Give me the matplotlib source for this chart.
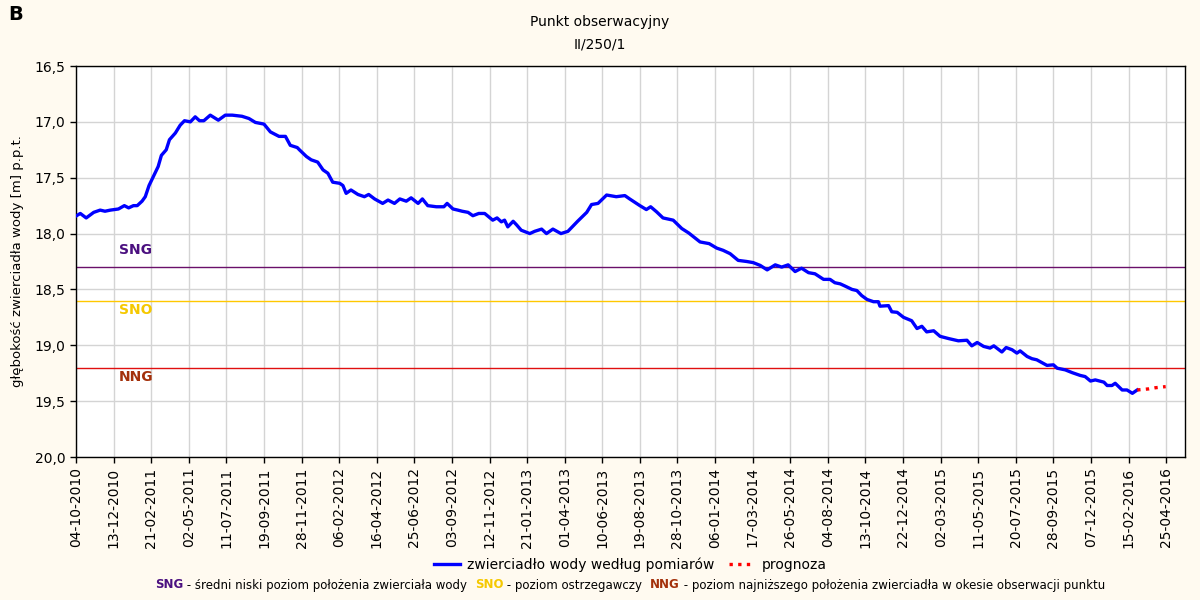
import matplotlib.pyplot as plt
import matplotlib.transforms as mtransforms
import numpy as np
from matplotlib.ticker import FuncFormatter, MultipleLocator

plt.rcParams['font.family'] = ['DejaVu Sans']

# --- dane ---
START = np.datetime64('2010-10-04')

# dni od 04-10-2010 i głębokość zwierciadła [m p.p.t.]
dni_pomiaru = [
    1, 8, 19, 33, 45, 54, 64, 79, 90, 98, 107, 114, 123, 129, 136, 144, 153, 159,
    168, 174, 185, 194, 202, 213, 222, 230, 238, 250, 265, 278, 291, 309, 322, 334,
    350, 362, 378, 390, 399, 412, 416, 429, 438, 450, 460, 469, 478, 491, 497, 503,
    512, 525, 537, 545, 556, 571, 581, 593, 603, 615, 624, 637, 645, 655, 671, 685,
    691, 702, 711, 719, 730, 739, 750, 761, 776, 784, 792, 798, 804, 814, 820, 829,
    845, 854, 867, 876, 888, 903, 916, 934, 951, 960, 972, 988, 1006, 1022, 1031,
    1050, 1062, 1070, 1081, 1093, 1112, 1128, 1141, 1162, 1179, 1193, 1205, 1218,
    1233, 1249, 1261, 1274, 1287, 1302, 1314, 1326, 1339, 1351, 1364, 1376, 1392,
    1404, 1413, 1423, 1432, 1445, 1454, 1463, 1473, 1485, 1494, 1497, 1513, 1519,
    1529, 1541, 1556, 1566, 1575, 1584, 1597, 1609, 1625, 1643, 1659, 1668, 1678,
    1690, 1702, 1709, 1724, 1732, 1743, 1752, 1758, 1771, 1780, 1789, 1808, 1820,
    1827, 1842, 1855, 1870, 1879, 1889, 1898, 1914, 1920, 1929, 1935, 1948, 1957,
    1967, 1976,
]
glebokosc = [
    17.84, 17.82, 17.86, 17.81, 17.79, 17.80, 17.79, 17.78, 17.75, 17.77, 17.75, 17.75,
    17.71, 17.67, 17.57, 17.49, 17.40, 17.30, 17.25, 17.16, 17.10, 17.03, 16.99, 17.00,
    16.955, 16.99, 16.99, 16.94, 16.985, 16.94, 16.94, 16.95, 16.97, 17.005, 17.02,
    17.09, 17.13, 17.13, 17.21, 17.23, 17.25, 17.31, 17.34, 17.36, 17.43, 17.46, 17.54,
    17.55, 17.57, 17.64, 17.61, 17.65, 17.67, 17.65, 17.69, 17.73, 17.70, 17.73, 17.69,
    17.71, 17.68, 17.73, 17.69, 17.75, 17.76, 17.76, 17.73, 17.78, 17.79, 17.80, 17.81,
    17.84, 17.82, 17.82, 17.88, 17.86, 17.895, 17.88, 17.94, 17.89, 17.92, 17.97,
    18.00, 17.98, 17.96, 18.00, 17.96, 18.00, 17.98, 17.89, 17.81, 17.74, 17.73, 17.655,
    17.67, 17.66, 17.69, 17.75, 17.785, 17.76, 17.805, 17.86, 17.88, 17.955, 17.995,
    18.075, 18.09, 18.13, 18.15, 18.18, 18.24, 18.25, 18.26, 18.285, 18.325, 18.28,
    18.30, 18.28, 18.34, 18.31, 18.35, 18.36, 18.41, 18.41, 18.44, 18.45, 18.47, 18.50,
    18.51, 18.555, 18.59, 18.61, 18.61, 18.65, 18.645, 18.70, 18.705, 18.75, 18.78,
    18.85, 18.83, 18.88, 18.87, 18.92, 18.94, 18.96, 18.955, 19.005, 18.975, 19.01,
    19.025, 19.005, 19.06, 19.02, 19.04, 19.07, 19.05, 19.10, 19.12, 19.13, 19.18,
    19.175, 19.205, 19.22, 19.245, 19.27, 19.28, 19.32, 19.31, 19.33, 19.36, 19.36,
    19.34, 19.40, 19.40, 19.43, 19.40,
]

dni_prognozy = [1976, 1998, 2010, 2029]
prognoza = [19.40, 19.39, 19.38, 19.37]

# poziomy charakterystyczne
poziomy = ['SNG', 'SNO', 'NNG']
wartosci_poziomow = [18.3, 18.6, 19.2]
kolory_linii = ['#6a106a', '#ffc800', '#e01010']
kolory_tekstu = ['#4b1080', '#f5c800', '#a3300a']
opisy = [' - średni niski poziom położenia zwierciała wody  ',
         ' - poziom ostrzegawczy  ',
         ' - poziom najniższego położenia zwierciadła w okesie obserwacji punktu']

TLO = '#fffaf0'

fig = plt.figure(figsize=(12, 6), dpi=100, facecolor=TLO)
ax = fig.add_axes([76 / 1200, 143 / 600, 1109 / 1200, 391 / 600])
ax.set_facecolor('white')

t_pom = START + np.array(dni_pomiaru, dtype='timedelta64[D]')
t_prog = START + np.array(dni_prognozy, dtype='timedelta64[D]')

for nazwa, war, kl in zip(poziomy, wartosci_poziomow, kolory_linii):
    ax.axhline(war, color=kl, lw=1.0, zorder=2)

ax.plot(t_pom, glebokosc, color='#0000ff', lw=2.4, zorder=4,
        label='zwierciadło wody według pomiarów')
ax.plot(t_prog, prognoza, color='#ff0000', lw=2.4, ls=(0, (1, 1.6)), zorder=4,
        label='prognoza')

# etykiety poziomów w wykresie
trans = mtransforms.blended_transform_factory(ax.transAxes, ax.transData)
offsety = [-0.15, 0.08, 0.08]
for nazwa, war, kl, off in zip(poziomy, wartosci_poziomow, kolory_tekstu, offsety):
    ax.text(0.054, war + off, nazwa, transform=trans, color=kl, fontsize=10,
            fontweight='bold', ha='center', va='center', zorder=5)

# osie
ax.set_ylim(20.0, 16.5)
ax.yaxis.set_major_locator(MultipleLocator(0.5))
ax.yaxis.set_major_formatter(FuncFormatter(lambda v, p: f'{v:.1f}'.replace('.', ',')))

ticki = START + np.arange(0, 2031, 70).astype('timedelta64[D]')
ax.set_xlim(START, START + np.timedelta64(2065, 'D'))
ax.set_xticks(ticki)
ax.set_xticklabels([str(t)[8:10] + '-' + str(t)[5:7] + '-' + str(t)[0:4] for t in ticki],
                   rotation=90)

ax.grid(True, color='#d4d4d4', lw=1.0, zorder=0)
ax.set_axisbelow(True)
ax.tick_params(direction='out', length=4, width=1, labelsize=10, colors='black')
for s in ax.spines.values():
    s.set_color('black')
    s.set_linewidth(1.0)

ax.set_ylabel('głębokość zwierciadła wody [m] p.p.t.', fontsize=9.5, labelpad=8)

# tytuł
fig.text(0.5, 1 - 22 / 600, 'Punkt obserwacyjny', ha='center', va='center', fontsize=10)
fig.text(0.5, 1 - 45 / 600, 'II/250/1', ha='center', va='center', fontsize=10)
fig.text(8 / 1200, 1 - 14 / 600, 'B', ha='left', va='center', fontsize=14, fontweight='bold')

# legenda
ax.legend(loc='center', bbox_to_anchor=(0.5, (565 - 457) / -391), ncol=2,
          frameon=False, fontsize=10, handlelength=1.9, columnspacing=1.0,
          handletextpad=0.5)

# opis poziomów - tekst wielokolorowy
renderer = fig.canvas.get_renderer()
kawalki = []
for nazwa, kt, opis in zip(poziomy, kolory_tekstu, opisy):
    kawalki.append(fig.text(0, 1 - 585 / 600, nazwa, color=kt, fontsize=8.5,
                            fontweight='bold', va='center'))
    kawalki.append(fig.text(0, 1 - 585 / 600, opis, color='black', fontsize=8.5,
                            va='center'))
szer = [k.get_window_extent(renderer).width for k in kawalki]
x = 630 - sum(szer) / 2
for k, w in zip(kawalki, szer):
    k.set_x(x / 1200)
    x += w

fig.savefig('out.png', dpi=100, facecolor=TLO)
